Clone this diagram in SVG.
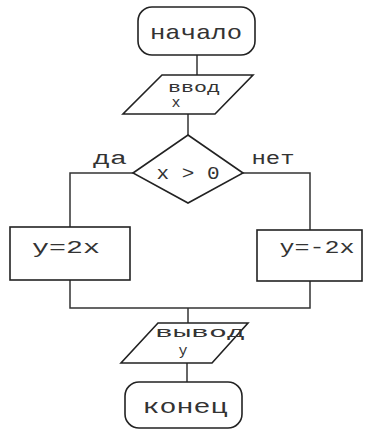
<svg xmlns="http://www.w3.org/2000/svg" width="374" height="430" viewBox="0 0 374 430">
<style>
.s{fill:#fff;stroke:#222;stroke-width:1.6}
.c{fill:none;stroke:#333;stroke-width:1.5}
.t{font-family:"Liberation Mono","DejaVu Sans Mono",monospace;fill:#333;text-anchor:middle}
</style>
<rect width="374" height="430" fill="#fff"/>
<g id="connectors">
<path class="c" d="M197 55V75"/>
<path class="c" d="M188 114V135"/>
<path class="c" d="M133 173H70V227"/>
<path class="c" d="M243 173H310V230"/>
<path class="c" d="M70 280V308H310V281"/>
<path class="c" d="M188 308V323"/>
<path class="c" d="M187 363V382"/>
</g>
<g id="start">
<rect class="s" x="138" y="7" width="117" height="48" rx="14"/>
<text class="t" x="196" y="39" font-size="21" textLength="92" lengthAdjust="spacingAndGlyphs">начало</text>
</g>
<g id="input">
<polygon class="s" points="162,75 253,75 215,114 123,114"/>
<text class="t" x="194" y="92" font-size="14" textLength="52" lengthAdjust="spacingAndGlyphs">ввод</text>
<text class="t" x="176" y="107" font-size="15">x</text>
</g>
<g id="cond">
<polygon class="s" points="188,135 243,173 188,203 133,173"/>
<text class="t" x="188" y="179" font-size="18" textLength="63" lengthAdjust="spacingAndGlyphs">x &gt; 0</text>
</g>
<g id="labels">
<text class="t" x="110" y="164" font-size="18" textLength="34" lengthAdjust="spacingAndGlyphs">да</text>
<text class="t" x="273" y="164" font-size="18" textLength="43" lengthAdjust="spacingAndGlyphs">нет</text>
</g>
<g id="yes">
<rect class="s" x="10" y="227" width="120" height="53"/>
<text class="t" x="66" y="253" font-size="18" textLength="68" lengthAdjust="spacingAndGlyphs">y=2x</text>
</g>
<g id="no">
<rect class="s" x="257" y="230" width="105" height="51"/>
<text class="t" x="317" y="253" font-size="18" textLength="75" lengthAdjust="spacingAndGlyphs">y=-2x</text>
</g>
<g id="output">
<polygon class="s" points="158,323 248,323 212,363 121,363"/>
<text class="t" x="200" y="337" font-size="14" textLength="90" lengthAdjust="spacingAndGlyphs">вывод</text>
<text class="t" x="183" y="355" font-size="15">y</text>
</g>
<g id="end">
<rect class="s" x="125" y="382" width="117" height="46" rx="14"/>
<text class="t" x="185" y="413" font-size="21" textLength="85" lengthAdjust="spacingAndGlyphs">конец</text>
</g>
</svg>
